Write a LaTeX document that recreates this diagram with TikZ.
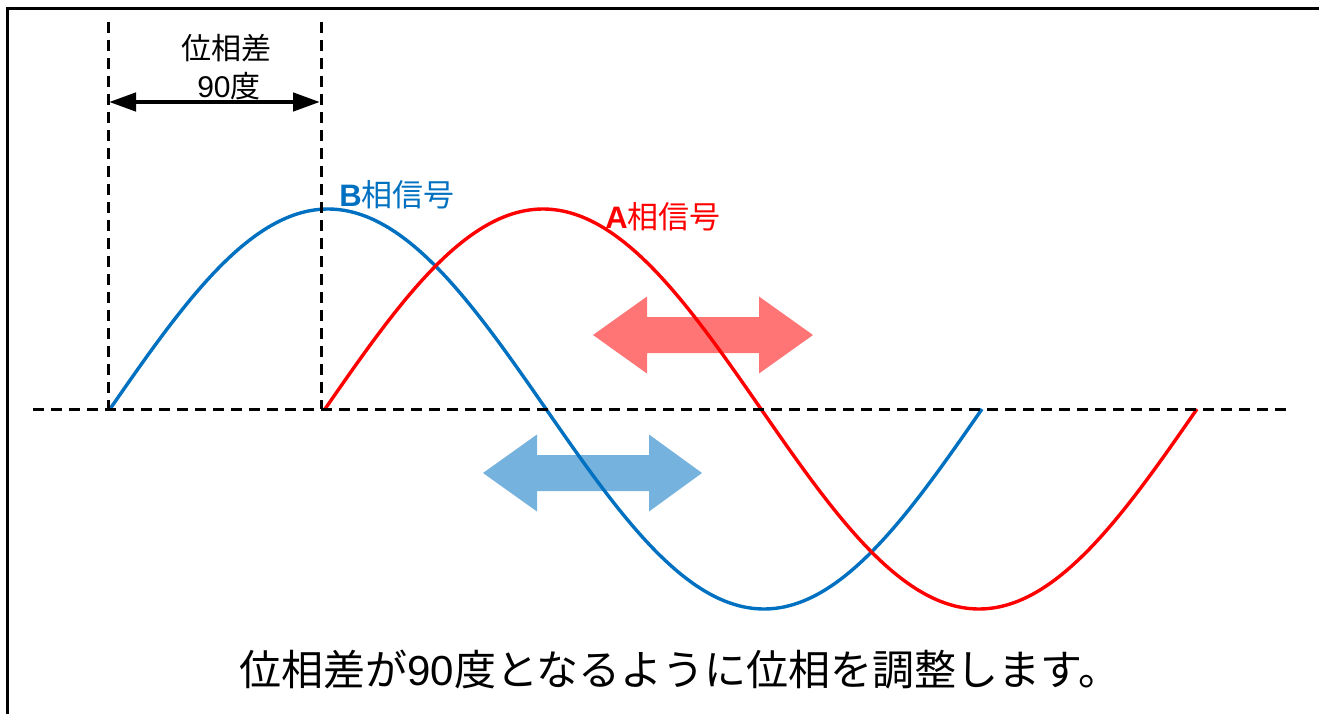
\documentclass[tikz,border=0pt]{standalone}
\usepackage{fontspec}
\setmainfont{Liberation Sans}
\newfontfamily\jp{Noto Sans CJK JP}
\usetikzlibrary{arrows.meta}
\definecolor{bsig}{HTML}{0070C0}
\definecolor{asig}{HTML}{FF0000}
\tikzset{
  guide/.style={black, line width=3bp, dash pattern=on 11bp off 7bp},
  wave/.style={line width=3.4bp},
  fatarrow/.style={fill opacity=0.54, draw=none},
  lbl/.style={inner sep=0, anchor=center},
}
\begin{document}
\begin{tikzpicture}[x=1bp, y=-1bp]
\useasboundingbox (0,0) rectangle (1319,714);
% frame (cropped)
\draw[line width=3bp] (7,714) -- (7,9) -- (1319,9);
% waves
\draw[wave, bsig] plot[domain=0:360, samples=120, smooth] ({110 + \x/360*872}, {409 - 200*sin(\x)});
\draw[wave, asig] plot[domain=0:360, samples=120, smooth] ({325 + \x/360*872}, {409 - 200*sin(\x)});
% guides
\coordinate (bl) at (33,409);
\coordinate (br) at (1290,409);
\coordinate (v1t) at (108,22);
\coordinate (v1b) at (108,409);
\coordinate (v2t) at (321,22);
\coordinate (v2b) at (321,409);
\draw[guide] (bl) -- (br);
\draw[guide] (v1t) -- (v1b);
\draw[guide] (v2t) -- (v2b);
% phase arrow
\coordinate (pa) at (109,102);
\coordinate (pb) at (320,102);
\draw[line width=4.5bp, {Triangle[length=27bp,width=18bp]}-{Triangle[length=27bp,width=18bp]}] (pa) -- (pb);
\node[lbl, font=\jp\fontsize{30bp}{34bp}\selectfont] (t1) at (226,48) {位相差};
\node[lbl, font=\fontsize{30bp}{34bp}\selectfont] (t2) at (229,86) {90{\jp 度}};
% fat arrows
\fill[fatarrow, fill=asig] (593,335) -- (647,296.5) -- (647,317) -- (759,317) -- (759,296.5) -- (813,335) -- (759,373.5) -- (759,353) -- (647,353) -- (647,373.5) -- cycle;
\fill[fatarrow, fill=bsig] (483,473) -- (537,434.5) -- (537,455) -- (649,455) -- (649,434.5) -- (702,473) -- (649,511.5) -- (649,491) -- (537,491) -- (537,511.5) -- cycle;
% labels
\node[lbl, text=bsig, font=\fontsize{31bp}{36bp}\selectfont] (lb) at (397,195) {\textbf{B}{\jp 相信号}};
\node[lbl, text=asig, font=\fontsize{31bp}{36bp}\selectfont] (la) at (663,217) {\textbf{A}{\jp 相信号}};
\node[lbl, font=\fontsize{42bp}{48bp}\selectfont] (cap) at (680,670) {{\jp 位相差が}90{\jp 度となるように位相を調整します。}};
\end{tikzpicture}
\end{document}
